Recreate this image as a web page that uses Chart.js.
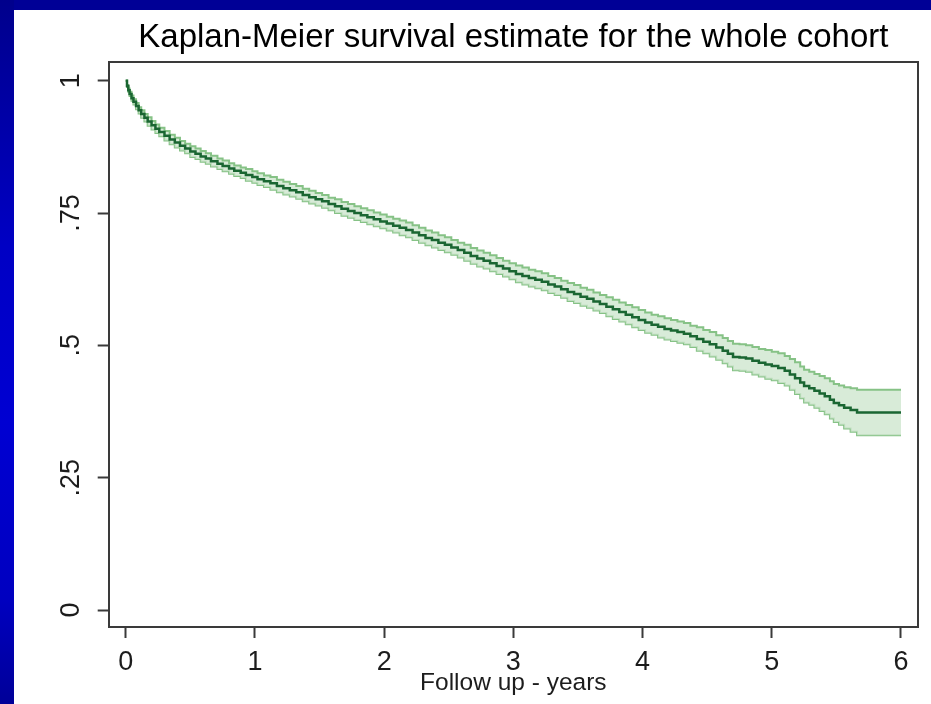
<!DOCTYPE html>
<html>
<head>
<meta charset="utf-8">
<script src="https://cdn.jsdelivr.net/npm/chart.js@4.4.1/dist/chart.umd.min.js"></script>
<style>
html,body{margin:0;padding:0;width:931px;height:704px;overflow:hidden;background:#000096;}
#strip{position:absolute;left:0;top:0;width:14px;height:704px;background:linear-gradient(to bottom,#00008c 0%,#0000c4 35%,#0000d2 60%,#0000c0 85%,#000098 100%);}
#panel{position:absolute;left:14px;top:10px;width:917px;height:694px;background:#ffffff;}
canvas{display:block;}
</style>
</head>
<body>
<div id="strip"></div>
<div id="panel"><canvas id="c" width="917" height="694"></canvas></div>
<script>
const chartTitle = 'Kaplan-Meier survival estimate for the whole cohort';
const xAxisTitle = 'Follow up - years';

const timeYears = [0, 0.01, 0.02, 0.03, 0.045, 0.06, 0.08, 0.10, 0.12, 0.145, 0.17, 0.20, 0.23, 0.26, 0.30, 0.34, 0.38, 0.42, 0.46,
  0.50, 0.54, 0.58, 0.62, 0.66, 0.71, 0.75, 0.80, 0.84, 0.89, 0.93, 0.98,
  1.02, 1.07, 1.12, 1.17, 1.22, 1.27, 1.32, 1.37, 1.42, 1.47, 1.52, 1.57, 1.62, 1.67, 1.72, 1.77, 1.82, 1.87, 1.92, 1.97,
  2.02, 2.07, 2.12, 2.17, 2.22, 2.27, 2.32, 2.37, 2.42, 2.47, 2.52, 2.57, 2.62, 2.67, 2.72, 2.77, 2.82, 2.87, 2.92, 2.97,
  3.02, 3.07, 3.12, 3.17, 3.22, 3.27, 3.32, 3.37, 3.42, 3.47, 3.52, 3.57, 3.62, 3.67, 3.72, 3.77, 3.82, 3.87, 3.92, 3.97,
  4.02, 4.07, 4.12, 4.17, 4.22, 4.27, 4.32, 4.37, 4.42, 4.47, 4.52, 4.57, 4.62, 4.66, 4.70, 4.75, 4.80, 4.85, 4.90, 4.95,
  5.00, 5.05, 5.10, 5.14, 5.18, 5.22, 5.25, 5.29, 5.33, 5.37, 5.41, 5.45, 5.48, 5.52, 5.56, 5.61, 5.66, 6.00];

const survival = [1.000, 0.990, 0.982, 0.975, 0.967, 0.960, 0.952, 0.944, 0.937, 0.930, 0.923, 0.916, 0.909, 0.903, 0.896, 0.889, 0.883, 0.877, 0.872,
  0.866, 0.862, 0.857, 0.853, 0.848, 0.843, 0.839, 0.834, 0.830, 0.826, 0.822, 0.818,
  0.814, 0.810, 0.806, 0.801, 0.797, 0.793, 0.789, 0.784, 0.780, 0.776, 0.772, 0.767, 0.763, 0.758, 0.754, 0.750, 0.746, 0.742, 0.738, 0.734,
  0.730, 0.726, 0.722, 0.718, 0.713, 0.708, 0.703, 0.699, 0.694, 0.690, 0.685, 0.680, 0.675, 0.669, 0.664, 0.660, 0.655, 0.650, 0.645, 0.640,
  0.635, 0.631, 0.627, 0.624, 0.620, 0.615, 0.611, 0.606, 0.601, 0.597, 0.592, 0.588, 0.583, 0.578, 0.573, 0.568, 0.563, 0.558, 0.553, 0.548,
  0.543, 0.539, 0.535, 0.531, 0.528, 0.525, 0.522, 0.517, 0.512, 0.507, 0.502, 0.496, 0.490, 0.484, 0.478, 0.477, 0.475, 0.471, 0.467, 0.464,
  0.461, 0.457, 0.452, 0.445, 0.438, 0.430, 0.423, 0.419, 0.414, 0.409, 0.404, 0.397, 0.391, 0.387, 0.382, 0.378, 0.373, 0.373];

const lowerCI = [1.000, 0.988, 0.979, 0.971, 0.962, 0.955, 0.946, 0.938, 0.930, 0.923, 0.915, 0.908, 0.901, 0.895, 0.887, 0.880, 0.874, 0.868, 0.863,
  0.856, 0.852, 0.847, 0.843, 0.838, 0.833, 0.829, 0.824, 0.820, 0.816, 0.811, 0.807,
  0.803, 0.799, 0.794, 0.789, 0.785, 0.781, 0.777, 0.772, 0.768, 0.764, 0.760, 0.755, 0.750, 0.745, 0.741, 0.737, 0.733, 0.729, 0.725, 0.721,
  0.717, 0.713, 0.708, 0.704, 0.699, 0.694, 0.689, 0.685, 0.680, 0.676, 0.671, 0.666, 0.660, 0.654, 0.649, 0.645, 0.640, 0.635, 0.630, 0.625,
  0.619, 0.615, 0.611, 0.608, 0.604, 0.599, 0.595, 0.590, 0.584, 0.580, 0.575, 0.571, 0.566, 0.561, 0.555, 0.550, 0.545, 0.540, 0.534, 0.529,
  0.524, 0.520, 0.515, 0.511, 0.508, 0.505, 0.502, 0.497, 0.490, 0.485, 0.479, 0.473, 0.466, 0.460, 0.453, 0.452, 0.450, 0.445, 0.441, 0.437,
  0.434, 0.429, 0.424, 0.416, 0.408, 0.400, 0.392, 0.388, 0.382, 0.376, 0.370, 0.362, 0.355, 0.350, 0.343, 0.337, 0.330, 0.330];

const upperCI = [1.000, 0.992, 0.985, 0.979, 0.972, 0.965, 0.958, 0.950, 0.944, 0.937, 0.931, 0.924, 0.917, 0.911, 0.905, 0.898, 0.892, 0.886, 0.881,
  0.876, 0.872, 0.867, 0.863, 0.858, 0.853, 0.849, 0.844, 0.840, 0.836, 0.833, 0.829,
  0.825, 0.821, 0.818, 0.813, 0.809, 0.805, 0.801, 0.796, 0.792, 0.788, 0.784, 0.779, 0.776, 0.771, 0.767, 0.763, 0.759, 0.755, 0.751, 0.747,
  0.743, 0.739, 0.736, 0.732, 0.727, 0.722, 0.717, 0.713, 0.708, 0.704, 0.699, 0.694, 0.690, 0.684, 0.679, 0.675, 0.670, 0.665, 0.660, 0.655,
  0.651, 0.647, 0.643, 0.640, 0.636, 0.631, 0.627, 0.622, 0.618, 0.614, 0.609, 0.605, 0.600, 0.595, 0.591, 0.586, 0.581, 0.576, 0.572, 0.567,
  0.562, 0.558, 0.555, 0.551, 0.548, 0.545, 0.542, 0.537, 0.534, 0.529, 0.525, 0.519, 0.514, 0.508, 0.503, 0.502, 0.500, 0.497, 0.493, 0.491,
  0.488, 0.485, 0.480, 0.474, 0.468, 0.460, 0.454, 0.450, 0.446, 0.442, 0.438, 0.432, 0.427, 0.424, 0.421, 0.419, 0.416, 0.416];

const xTickValues = [0, 1, 2, 3, 4, 5, 6];
const xTickLabels = ['0', '1', '2', '3', '4', '5', '6'];
const yTickValues = [0, 0.25, 0.5, 0.75, 1];
const yTickLabels = ['0', '.25', '.5', '.75', '1'];

const FONT = '"Liberation Sans", Arial, Helvetica, sans-serif';
const frameColor = '#3a3a3a';
const textColor = '#1c1c1c';

const toXY = ys => timeYears.map((t, i) => ({x: t, y: ys[i]}));

const commonGrid = {display: true, drawOnChartArea: false, drawTicks: true, tickLength: 11, tickWidth: 2, tickColor: frameColor};
const commonBorder = {display: true, color: frameColor, width: 2};

new Chart(document.getElementById('c'), {
  type: 'line',
  data: {
    datasets: [
      {label: 'Survival', data: toXY(survival), stepped: true, borderColor: '#1a6632', borderWidth: 2.5, pointRadius: 0, fill: false},
      {label: 'Upper CI', data: toXY(upperCI), stepped: true, borderColor: '#86c286', borderWidth: 2, pointRadius: 0, fill: '+1', backgroundColor: 'rgba(206,230,206,0.8)'},
      {label: 'Lower CI', data: toXY(lowerCI), stepped: true, borderColor: '#86c286', borderWidth: 2, pointRadius: 0, fill: false}
    ]
  },
  options: {
    responsive: false,
    animation: false,
    devicePixelRatio: 1,
    layout: {padding: 0},
    plugins: {
      legend: {display: false},
      tooltip: {enabled: false},
      title: {display: true, text: chartTitle, fullSize: false, color: '#000000',
        font: {family: FONT, size: 33, weight: 'normal'}, padding: {top: 8, bottom: 4.4}}
    },
    scales: {
      x: {
        type: 'linear', position: 'bottom', min: -0.1316, max: 6.1316,
        afterBuildTicks: s => { s.ticks = xTickValues.map(v => ({value: v})); },
        afterFit: s => { s.height = 77; },
        ticks: {autoSkip: false, minRotation: 0, maxRotation: 0, padding: 8, color: textColor,
          font: {family: FONT, size: 27}, callback: (v, i) => xTickLabels[i]},
        grid: commonGrid, border: commonBorder,
        title: {display: true, text: xAxisTitle, color: textColor, font: {family: FONT, size: 24.5}, padding: {top: 0, bottom: 6}}
      },
      y: {
        type: 'linear', position: 'left', min: -0.0321, max: 1.0353,
        afterBuildTicks: s => { s.ticks = yTickValues.map(v => ({value: v})); },
        afterFit: s => { s.width = 94.7; },
        ticks: {autoSkip: false, minRotation: 90, maxRotation: 90, crossAlign: 'center', padding: 7, color: textColor,
          font: {family: FONT, size: 27}, callback: (v, i) => yTickLabels[i]},
        grid: commonGrid, border: commonBorder
      },
      x2: {
        type: 'linear', position: 'top', min: -0.1316, max: 6.1316, display: true,
        afterFit: s => { s.height = 0; },
        ticks: {display: false}, grid: {display: false, drawTicks: false}, border: commonBorder
      },
      y2: {
        type: 'linear', position: 'right', min: -0.0321, max: 1.0353, display: true,
        afterFit: s => { s.width = 13; },
        ticks: {display: false}, grid: {display: false, drawTicks: false}, border: commonBorder
      }
    }
  }
});
</script>
</body>
</html>
